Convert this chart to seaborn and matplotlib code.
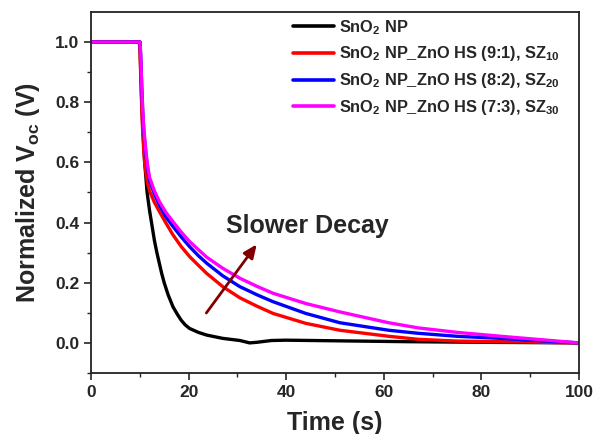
import numpy as np
import pandas as pd
import matplotlib
matplotlib.use("Agg")
import matplotlib.pyplot as plt
import seaborn as sns

sns.set_style("ticks")
plt.rcParams['font.family'] = ['Liberation Sans', 'DejaVu Sans']
plt.rcParams['font.weight'] = 'bold'
plt.rcParams['mathtext.fontset'] = 'custom'
plt.rcParams['mathtext.rm'] = 'Liberation Sans:bold'
plt.rcParams['mathtext.bf'] = 'Liberation Sans:bold'
plt.rcParams['mathtext.default'] = 'bf'

labels = [r'SnO$_{2}$ NP',
          r'SnO$_{2}$ NP_ZnO HS (9:1), SZ$_{10}$',
          r'SnO$_{2}$ NP_ZnO HS (8:2), SZ$_{20}$',
          r'SnO$_{2}$ NP_ZnO HS (7:3), SZ$_{30}$']
colors = ['#000000', '#ff0000', '#0000ff', '#ff00ff']

t_np = [0, 10.0, 10.2, 10.4, 10.6, 10.8, 11.0, 11.5, 12.0, 12.5, 13.0, 13.5, 14.0, 14.5, 15.0,
        15.8, 16.8, 17.7, 18.5, 19.3, 20.2, 22.0, 23.7, 27.0, 30.5, 32.5, 34.0, 37.0, 40.0,
        45.0, 55.0, 65.0, 80.0, 100.0]
v_np = [1.0, 1.0, 0.9, 0.8, 0.72, 0.66, 0.6, 0.5, 0.44, 0.39, 0.34, 0.30, 0.265, 0.23, 0.2,
        0.16, 0.12, 0.095, 0.075, 0.06, 0.048, 0.035, 0.026, 0.015, 0.008, 0.0, 0.002, 0.008,
        0.009, 0.008, 0.006, 0.004, 0.002, 0.0]

t_sz10 = [0, 9.9, 10.05, 10.2, 10.4, 10.6, 10.8, 11.0, 11.3, 11.6, 12.0, 13.0, 14.0, 15.3,
          16.8, 18.5, 20.2, 22.0, 23.7, 27.0, 30.5, 34.0, 37.3, 44.0, 51.0, 61.0, 67.0, 75.0,
          84.0, 92.0, 100.0]
v_sz10 = [1.0, 1.0, 0.97, 0.88, 0.78, 0.7, 0.64, 0.6, 0.56, 0.53, 0.505, 0.467, 0.437, 0.4,
          0.359, 0.32, 0.287, 0.258, 0.231, 0.187, 0.15, 0.122, 0.098, 0.065, 0.042, 0.022,
          0.012, 0.006, 0.004, 0.002, 0.0]

t_sz20 = [0, 10.05, 10.2, 10.4, 10.6, 10.8, 11.0, 11.3, 11.6, 12.0, 13.0, 14.0, 15.3, 16.8,
          18.5, 20.2, 22.0, 23.7, 27.0, 30.5, 34.0, 37.3, 44.0, 51.0, 61.0, 67.0, 75.0, 84.0,
          92.0, 100.0]
v_sz20 = [1.0, 1.0, 0.95, 0.85, 0.77, 0.71, 0.67, 0.62, 0.58, 0.54, 0.495, 0.459, 0.42,
          0.387, 0.352, 0.32, 0.29, 0.265, 0.223, 0.187, 0.16, 0.137, 0.098, 0.067, 0.042,
          0.032, 0.022, 0.015, 0.007, 0.0]

t_sz30 = [0, 10.05, 10.2, 10.4, 10.6, 10.8, 11.0, 11.3, 11.6, 12.0, 13.0, 14.0, 15.3, 16.8,
          18.5, 20.2, 22.0, 23.7, 27.0, 30.5, 34.0, 37.3, 44.0, 51.0, 61.0, 67.0, 75.0, 84.0,
          92.0, 100.0]
v_sz30 = [1.0, 1.0, 0.95, 0.85, 0.77, 0.72, 0.68, 0.63, 0.59, 0.55, 0.505, 0.47, 0.435,
          0.403, 0.368, 0.337, 0.31, 0.285, 0.248, 0.215, 0.188, 0.165, 0.131, 0.103, 0.067,
          0.05, 0.035, 0.022, 0.011, 0.0]

series = [(t_np, v_np), (t_sz10, v_sz10), (t_sz20, v_sz20), (t_sz30, v_sz30)]
frames = []
for lab, (t, v) in zip(labels, series):
    frames.append(pd.DataFrame({'Time': t, 'Voc': v, 'Sample': lab}))
df = pd.concat(frames, ignore_index=True)

fig = plt.figure(figsize=(5.94, 4.34), dpi=100)
ax = fig.add_axes([0.1532, 0.1406, 0.8215, 0.8318])

sns.lineplot(data=df, x='Time', y='Voc', hue='Sample', hue_order=labels,
             palette=dict(zip(labels, colors)), estimator=None, sort=False,
             linewidth=2.4, ax=ax)

ax.set_xlim(0, 100)
ax.set_ylim(-0.1, 1.1)
ax.set_xticks([0, 20, 40, 60, 80, 100])
ax.set_xticks(np.arange(10, 100, 20), minor=True)
ax.set_yticks([0.0, 0.2, 0.4, 0.6, 0.8, 1.0])
ax.set_yticks([-0.1, 0.1, 0.3, 0.5, 0.7, 0.9], minor=True)
ax.set_yticklabels(['0.0', '0.2', '0.4', '0.6', '0.8', '1.0'])
ax.tick_params(axis='both', which='major', direction='out', length=5, width=1.2,
               labelsize=12.5, top=False, right=False)
ax.tick_params(axis='both', which='minor', direction='out', length=3, width=1.0,
               top=False, right=False)
for lbl in ax.get_xticklabels() + ax.get_yticklabels():
    lbl.set_fontweight('bold')
for s in ax.spines.values():
    s.set_linewidth(1.3)
    s.set_color('#222222')

ax.set_xlabel('Time (s)', fontsize=18, fontweight='bold', labelpad=8)
ax.set_ylabel(r'Normalized V$_{oc}$ (V)', fontsize=18, fontweight='bold', labelpad=9)

leg = ax.legend(loc='upper left', bbox_to_anchor=(0.388, 1.02), frameon=False,
                fontsize=11.8, handlelength=2.5, handletextpad=0.3, labelspacing=0.48,
                borderpad=0.3)
for line in leg.get_lines():
    line.set_linewidth(2.6)
for txt in leg.get_texts():
    txt.set_fontweight('bold')

ax.text(44.3, 0.39, 'Slower Decay', fontsize=18, fontweight='bold',
        ha='center', va='center')
ax.annotate('', xy=(34.3, 0.335), xytext=(23.3, 0.092),
            arrowprops=dict(arrowstyle='-|>,head_length=0.8,head_width=0.35',
                            color='#800000', lw=2.0))

fig.savefig('out.png', dpi=100)
